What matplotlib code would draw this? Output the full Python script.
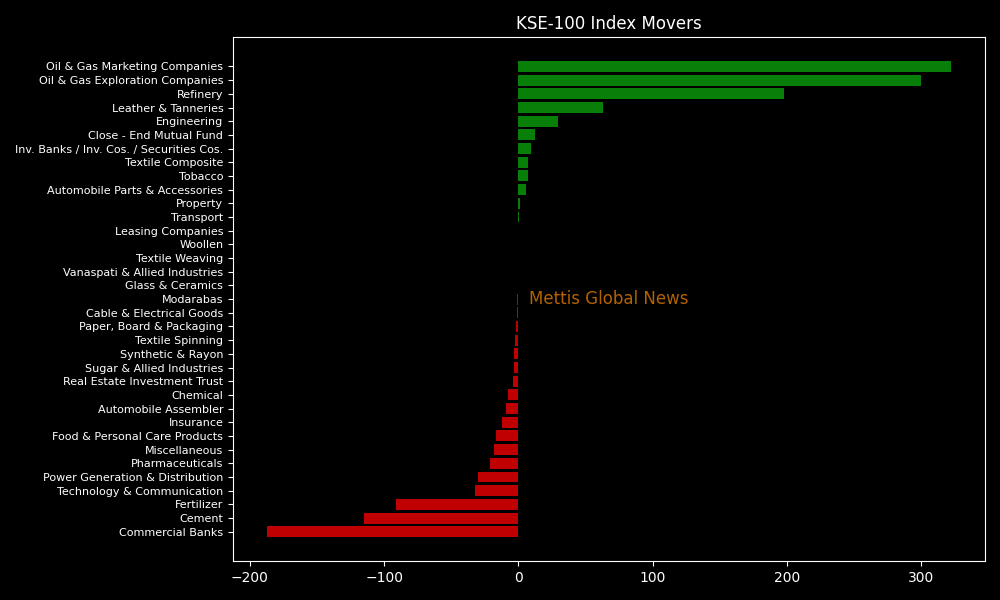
import matplotlib
matplotlib.use("Agg")
import matplotlib.pyplot as plt

categories = [
    "Oil & Gas Marketing Companies", "Oil & Gas Exploration Companies", "Refinery",
    "Leather & Tanneries", "Engineering", "Close - End Mutual Fund",
    "Inv. Banks / Inv. Cos. / Securities Cos.", "Textile Composite", "Tobacco",
    "Automobile Parts & Accessories", "Property", "Transport", "Leasing Companies",
    "Woollen", "Textile Weaving", "Vanaspati & Allied Industries", "Glass & Ceramics",
    "Modarabas", "Cable & Electrical Goods", "Paper, Board & Packaging",
    "Textile Spinning", "Synthetic & Rayon", "Sugar & Allied Industries",
    "Real Estate Investment Trust", "Chemical", "Automobile Assembler", "Insurance",
    "Food & Personal Care Products", "Miscellaneous", "Pharmaceuticals",
    "Power Generation & Distribution", "Technology & Communication", "Fertilizer",
    "Cement", "Commercial Banks",
]
values = [
    322.0, 299.8, 197.8, 63.0, 29.8, 12.4, 9.4, 7.3, 7.3, 5.8, 1.5, 0.7, 0.0,
    0.0, 0.0, 0.0, 0.0, -0.7, -0.8, -1.6, -2.2, -3.0, -3.1, -3.7, -7.5, -9.0,
    -12.0, -16.4, -17.9, -20.8, -30.0, -32.2, -91.0, -114.9, -187.0,
]

plt.style.use("dark_background")
fig = plt.figure(figsize=(10, 6), dpi=100)
ax = fig.add_axes([0.233, 0.065, 0.752, 0.873])

cats_plot = categories[::-1]
vals_plot = values[::-1]
colors = ["#087f08" if v >= 0 else "#c00000" for v in vals_plot]
ax.barh(cats_plot, vals_plot, color=colors)

ax.set_title("KSE-100 Index Movers", fontsize=12, color="white")
ax.tick_params(axis="y", labelsize=8)
ax.tick_params(axis="x", labelsize=10)
ax.text(8, 17, "Mettis Global News", color="darkorange", alpha=0.7,
        fontsize=12, va="center", ha="left")

fig.savefig("out.png", dpi=100, facecolor="black")
